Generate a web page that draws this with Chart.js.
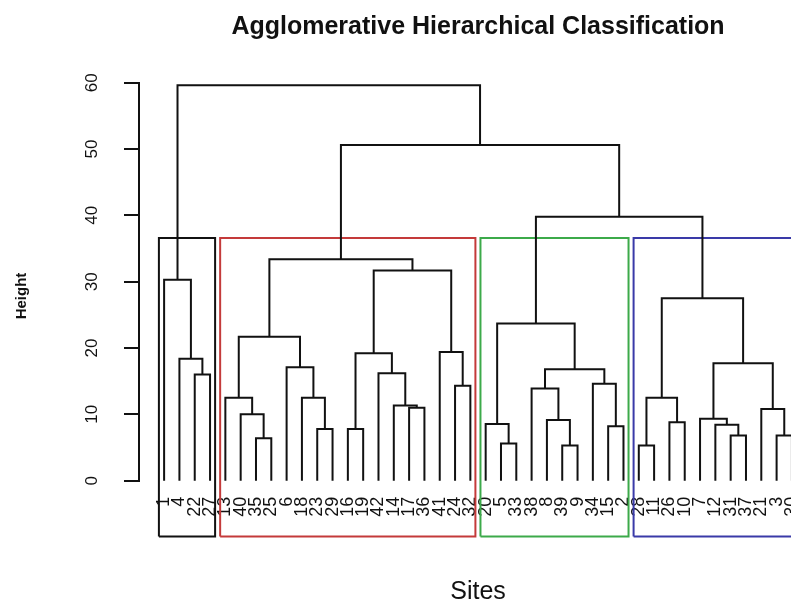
<!DOCTYPE html>
<html>
<head>
<meta charset="utf-8">
<script src="https://cdn.jsdelivr.net/npm/chart.js@4.4.0/dist/chart.umd.min.js"></script>
<style>
  html, body { margin: 0; padding: 0; background: #fff; overflow: hidden; width: 791px; height: 606px; }
  canvas { display: block; }
</style>
</head>
<body>
<canvas id="dendro" width="830" height="606"></canvas>
<script>
// leaf order as drawn (site numbers)
const leafLabels = ['1', '4', '22', '27', '13', '40', '35', '25', '6', '18', '23', '29', '16', '19', '42', '14', '17',
    '36', '41', '24', '32', '20', '5', '33', '38', '8', '39', '9', '34', '15', '2', '28', '11', '26', '10', '7', '12',
    '31', '37', '21', '3', '30'];

// merges, hclust style: negative = site, positive = earlier merge
const mergeA = [-39, -28, -5, -35, -31, -3, -23, -16, -15, -12, -20, -26, -8, -7, -40, -21, -17, -14, -13, -18, 2,
    -38, -24, -34, -22, -42, 22, -6, 14, -4, 8, -41, 19, 11, 21, -1, 31, 33, 34, 38, 36];
const mergeB = [-9, -11, -33, -25, -37, -30, -29, -19, -2, 5, 3, -10, 1, 10, 4, 6, -36, 17, 15, 7, 12,
    13, -32, 9, -27, 18, 24, 20, 16, 25, 26, 23, 28, 27, 29, 30, 32, 37, 35, 39, 40];
const mergeHeight = [5.3, 5.3, 5.6, 6.4, 6.8, 6.8, 7.8, 7.8, 8.2, 8.45, 8.55, 8.8, 9.15, 9.35, 10.0, 10.8, 11.0, 11.35,
    12.5, 12.5, 12.5, 13.9, 14.3, 14.6, 16.0, 16.2, 16.8, 17.1, 17.7, 18.4, 19.2, 19.4, 21.7, 23.7, 27.5, 30.3, 31.7,
    33.4, 39.8, 50.6, 59.6];

// 4 groups cut from the tree
const clusterSizes = [4, 17, 10, 11];
const clusterColors = ['#111111', '#c43a3a', '#3caa4a', '#3a3aa8'];

const yTicks = [0, 10, 20, 30, 40, 50, 60];
const boxBottom = -8.4;

const pos = {};
leafLabels.forEach((s, i) => pos[s] = i + 1);

const nodeX = [];
function child(id) {
    if (id < 0) return { x: pos[String(-id)], y: 0 };
    return { x: nodeX[id - 1], y: mergeHeight[id - 1] };
}

const datasets = [];
mergeHeight.forEach((h, i) => {
    const a = child(mergeA[i]);
    const b = child(mergeB[i]);
    nodeX.push((a.x + b.x) / 2);
    datasets.push({
        data: [{ x: a.x, y: a.y }, { x: a.x, y: h }, { x: b.x, y: h }, { x: b.x, y: b.y }],
        borderColor: '#111',
        borderWidth: 2,
    });
});

const sorted = [...mergeHeight].sort((p, q) => q - p);
const k = clusterSizes.length;
const boxTop = (sorted[k - 2] + sorted[k - 1]) / 2;
let start = 0;
clusterSizes.forEach((n, i) => {
    const left = start + 0.66, right = start + n + 0.33;
    start += n;
    datasets.push({
        data: [{ x: left, y: boxBottom }, { x: left, y: boxTop }, { x: right, y: boxTop },
            { x: right, y: boxBottom }, { x: left, y: boxBottom }],
        borderColor: clusterColors[i],
        borderWidth: 2,
    });
});

datasets.forEach(d => {
    d.showLine = true;
    d.pointRadius = 0;
    d.fill = false;
    d.tension = 0;
    d.clip = false;
});

const FONT = '"Liberation Sans", Arial, sans-serif';

// y tick labels (rotated, like R) and the y title
const axisText = {
    id: 'axisText',
    afterDraw(chart) {
        const { ctx } = chart;
        const y = chart.scales.y;
        ctx.save();
        ctx.fillStyle = '#111';
        ctx.textAlign = 'center';
        ctx.textBaseline = 'alphabetic';
        ctx.font = '17px ' + FONT;
        y.ticks.forEach(t => {
            ctx.save();
            ctx.translate(97, y.getPixelForValue(t.value));
            ctx.rotate(-Math.PI / 2);
            ctx.fillText(String(t.value), 0, 0);
            ctx.restore();
        });
        ctx.font = 'bold 15px ' + FONT;
        ctx.translate(26, 296);
        ctx.rotate(-Math.PI / 2);
        ctx.fillText('Height', 0, 0);
        ctx.restore();
    }
};

new Chart(document.getElementById('dendro'), {
    type: 'scatter',
    data: { datasets: datasets },
    plugins: [axisText],
    options: {
        responsive: false,
        animation: false,
        layout: { padding: { left: 0, right: 9, top: 0, bottom: 0 } },
        plugins: {
            legend: { display: false },
            tooltip: { enabled: false },
            title: {
                display: true,
                fullSize: false,
                text: 'Agglomerative Hierarchical Classification',
                color: '#111',
                font: { family: FONT, size: 25, weight: 'bold', lineHeight: 1.2 },
                padding: { top: 12, bottom: 40.7 }
            }
        },
        scales: {
            x: {
                type: 'linear',
                min: -0.64,
                max: 43.64,
                afterBuildTicks: (s) => { s.ticks = leafLabels.map((_, i) => ({ value: i + 1 })); },
                afterFit: (s) => { s.height = 125.3; },
                grid: { display: false, drawTicks: false },
                border: { display: false },
                ticks: {
                    autoSkip: false,
                    minRotation: 90,
                    maxRotation: 90,
                    padding: 16,
                    color: '#111',
                    font: { family: FONT, size: 18 },
                    callback: (v) => leafLabels[v - 1] || ''
                },
                title: {
                    display: true,
                    text: 'Sites',
                    color: '#111',
                    font: { family: FONT, size: 25, lineHeight: 1 },
                    padding: { top: 0, bottom: 1 }
                }
            },
            y: {
                min: 0,
                max: 60,
                afterBuildTicks: (s) => { s.ticks = yTicks.map(v => ({ value: v })); },
                afterFit: (s) => { s.width = 139; },
                ticks: { display: false },
                grid: { drawOnChartArea: false, drawTicks: true, tickLength: 15, color: '#111', lineWidth: 2 },
                border: { display: true, color: '#111', width: 2 }
            }
        }
    }
});
</script>
</body>
</html>
